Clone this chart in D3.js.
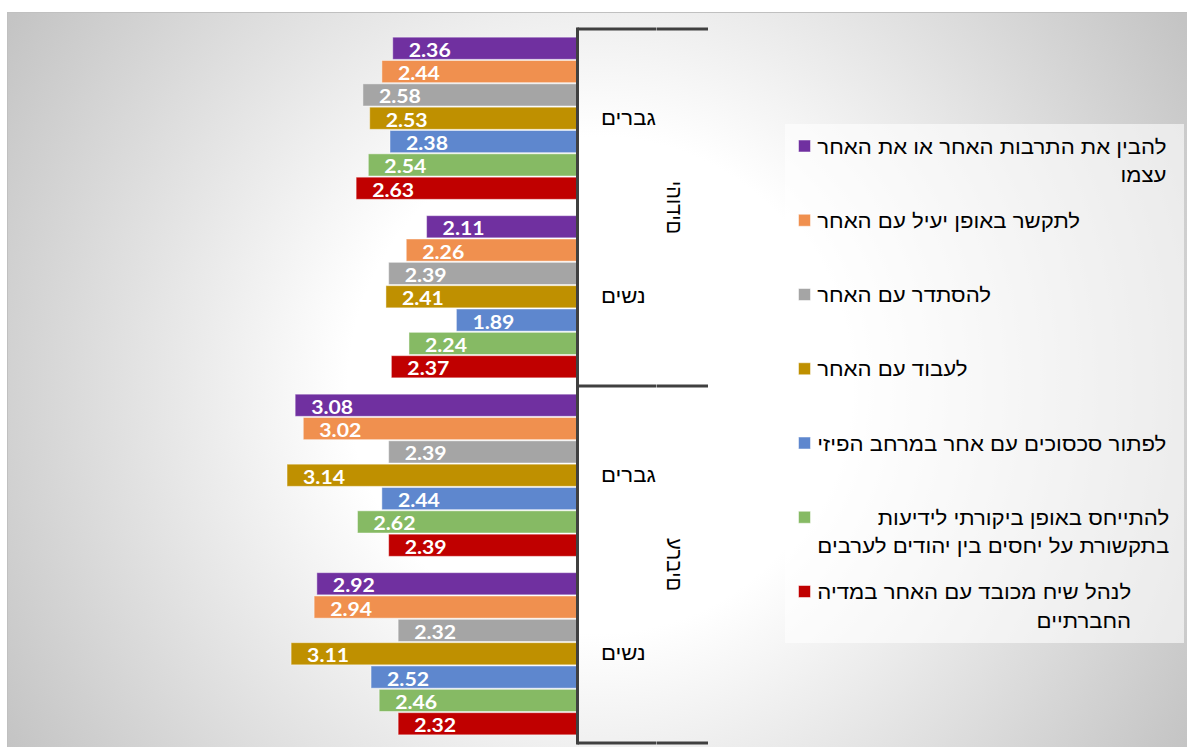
<!DOCTYPE html>
<html>
<head>
<meta charset="utf-8">
<script src="https://cdnjs.cloudflare.com/ajax/libs/d3/7.8.5/d3.min.js"></script>
<style>
  html, body { margin: 0; padding: 0; background: #ffffff; }
  svg { display: block; }
</style>
</head>
<body>
<script>
// ---------------- DATA ----------------
const categories = ["גברים", "נשים", "גברים", "נשים"];
const groups = ["יהודים", "ערבים"];
const seriesNames = [
  "להבין את התרבות האחר או את האחר\nעצמו",
  "לתקשר באופן יעיל עם האחר",
  "להסתדר עם האחר",
  "לעבוד עם האחר",
  "לפתור סכסוכים עם אחר במרחב הפיזי",
  "להתייחס באופן ביקורתי לידיעות\nבתקשורת על יחסים בין יהודים לערבים",
  "לנהל שיח מכובד עם האחר במדיה\nהחברתיים"
];
// values per category: [Jews men, Jews women, Arabs men, Arabs women]
const understandOther   = [2.36, 2.11, 3.08, 2.92];
const communicate       = [2.44, 2.26, 3.02, 2.94];
const getAlong          = [2.58, 2.39, 2.39, 2.32];
const workWith          = [2.53, 2.41, 3.14, 3.11];
const resolveConflicts  = [2.38, 1.89, 2.44, 2.52];
const criticalMedia     = [2.54, 2.24, 2.62, 2.46];
const respectfulSocial  = [2.63, 2.37, 2.39, 2.32];
const seriesValues = [understandOther, communicate, getAlong, workWith, resolveConflicts, criticalMedia, respectfulSocial];
const colors = ["#7030A0", "#F0904F", "#A5A5A5", "#BF9000", "#5E87CE", "#86BA64", "#C00000"];
const valueDomain = [1, 5];

// ---------------- LAYOUT ----------------
const W = 1187, H = 747;
const SX = 1.18;   // horizontal stretch of the value labels
const HSX = 1.11;  // horizontal stretch of the Hebrew texts
const hebFont = "'Liberation Sans', Arial, sans-serif";

const svg = d3.select("body").append("svg").attr("width", W).attr("height", H);
const defs = svg.append("defs");
const grad = defs.append("radialGradient").attr("id", "bg")
  .attr("gradientUnits", "userSpaceOnUse")
  .attr("cx", 597).attr("cy", 385).attr("r", 690);
grad.append("stop").attr("offset", 0).attr("stop-color", "#ffffff");
grad.append("stop").attr("offset", 0.36).attr("stop-color", "#ffffff");
grad.append("stop").attr("offset", 1).attr("stop-color", "#c4c4c4");

svg.append("rect").attr("x", 7.5).attr("y", 12.5).attr("width", 1181).attr("height", 736)
  .attr("fill", "url(#bg)").attr("stroke", "#c0c0c0").attr("stroke-width", 1);

const x = d3.scaleLinear().domain(valueDomain).range([577, 35]);
const y0 = d3.scaleBand().domain(d3.range(categories.length)).range([29, 743]);
const y1 = d3.scaleBand().domain(d3.range(seriesValues.length)).range([0, y0.bandwidth()])
  .paddingInner(0.05).paddingOuter(0.35);
const yG = d3.scaleBand().domain(d3.range(groups.length)).range([29, 743]);

// bars
const barData = [];
seriesValues.forEach((vals, s) => vals.forEach((v, c) => barData.push({ s, c, v })));

const plot = svg.append("g");
plot.selectAll("rect.bar").data(barData).join("rect")
  .attr("class", "bar")
  .attr("x", d => x(d.v))
  .attr("y", d => y0(d.c) + y1(d.s))
  .attr("width", d => x(valueDomain[0]) - x(d.v))
  .attr("height", y1.bandwidth())
  .attr("fill", d => colors[d.s])
  .attr("stroke", "rgba(255,255,255,0.45)")
  .attr("stroke-width", 1);

plot.selectAll("text.lbl").data(barData).join("text")
  .attr("class", "lbl")
  .attr("transform", d => `translate(${x(d.v) + 16},${y0(d.c) + y1(d.s) + y1.bandwidth() / 2 + 8.5}) scale(${SX},1)`)
  .attr("fill", "#ffffff")
  .attr("font-family", "Lato, 'Open Sans', sans-serif")
  .attr("font-weight", 700)
  .attr("font-size", 18)
  .text(d => d.v.toFixed(2));

// axis
const axis = svg.append("g").attr("stroke", "#404040").attr("stroke-width", 3).attr("fill", "none");
axis.append("line").attr("x1", 577.5).attr("x2", 577.5).attr("y1", 27.5).attr("y2", 744.5);
const bounds = [yG(0), yG(1), yG(1) + yG.bandwidth()];
bounds.forEach(b => {
  axis.append("line").attr("x1", 577.5).attr("x2", 656).attr("y1", b).attr("y2", b);
  axis.append("line").attr("x1", 656.5).attr("x2", 708).attr("y1", b).attr("y2", b);
});

svg.append("g").selectAll("text").data(categories).join("text")
  .attr("transform", (d, i) => `translate(601,${y0(i) + y0.bandwidth() / 2 + 6.5}) scale(${HSX},1)`)
  .attr("font-family", hebFont).attr("font-size", 20).attr("fill", "#000")
  .attr("text-anchor", "start")
  .text(d => d);

// vertical group labels: letters in reading order from top to bottom, each turned 90°
const gl = svg.append("g");
groups.forEach((name, i) => {
  const chars = Array.from(name);
  const tmp = gl.append("text").attr("font-family", hebFont).attr("font-size", 20);
  const widths = chars.map(ch => { tmp.text(ch); return tmp.node().getComputedTextLength(); });
  tmp.remove();
  const total = d3.sum(widths);
  let pos = yG(i) + yG.bandwidth() / 2 - total / 2;
  const g = gl.append("g").attr("class", "grp");
  chars.forEach((ch, k) => {
    const cy = pos + widths[k] / 2;
    pos += widths[k];
    g.append("text")
      .attr("transform", `translate(675,${cy}) rotate(90) scale(1,${HSX})`)
      .attr("font-family", hebFont).attr("font-size", 20).attr("fill", "#000")
      .attr("text-anchor", "middle").attr("dominant-baseline", "central")
      .text(ch);
  });
});

// legend
const legend = svg.append("g");
legend.append("rect").attr("x", 785).attr("y", 124).attr("width", 399).attr("height", 519)
  .attr("fill", "rgba(255,255,255,0.6)");
const ly = d3.scaleLinear().domain([0, seriesNames.length - 1]).range([146.5, 592]);
const items = legend.selectAll("g.item").data(seriesNames).join("g").attr("class", "item");
items.append("rect")
  .attr("x", 798.5).attr("y", (d, i) => ly(i) - 6.5).attr("width", 12).attr("height", 12)
  .attr("fill", (d, i) => colors[i]).attr("stroke", "rgba(255,255,255,0.5)").attr("stroke-width", 1);
items.each(function (d, i) {
  const g = d3.select(this);
  const lines = d.split("\n");
  const texts = lines.map((ln, k) => g.append("text")
    .attr("font-family", hebFont).attr("font-size", 20).attr("fill", "#000")
    .attr("text-anchor", "end")
    .text(ln));
  const maxW = d3.max(texts, t => t.node().getComputedTextLength()) * HSX;
  texts.forEach((t, k) => t.attr("transform", `translate(${817 + maxW},${ly(i) + 7 + k * 28.5}) scale(${HSX},1)`));
});
</script>
</body>
</html>
